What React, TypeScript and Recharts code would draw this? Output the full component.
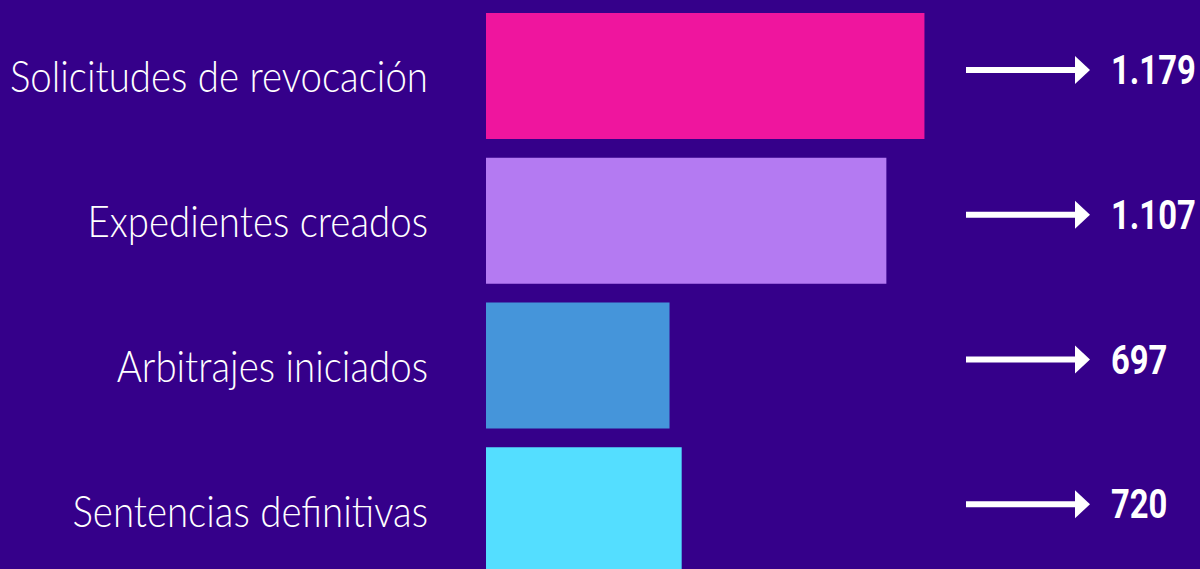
import React from "react";
import { BarChart, Bar, XAxis, YAxis, Cell, LabelList } from "recharts";

const categories = [
  "Solicitudes de revocación",
  "Expedientes creados",
  "Arbitrajes iniciados",
  "Sentencias definitivas",
];
const totals = [1179, 1107, 697, 720];
const barColors = ["#EF159E", "#B47AF2", "#4595DA", "#54DEFF"];

const data = categories.map((name, i) => ({ name, total: totals[i] }));

const BG = "#35008A";

// 1179 -> "1.179"
const formatEs = (v: number) => String(v).replace(/\B(?=(\d{3})+(?!\d))/g, ".");

const CategoryTick = (props: any) => {
  const { y, payload } = props;
  return (
    <g transform={`translate(428, ${y}) scale(0.874, 1)`}>
      <text
        x={0}
        y={0}
        dy={16}
        textAnchor="end"
        fill="#ffffff"
        fontFamily="Lato, sans-serif"
        fontWeight={300}
        fontSize={44}
      >
        {payload.value}
      </text>
    </g>
  );
};

const ArrowValue = (props: any) => {
  const { y, height, value } = props;
  const cy = y + height / 2 - 6;
  return (
    <g>
      <rect x={966} y={cy - 3} width={112} height={6} fill="#ffffff" />
      <polygon points={`1075,${cy - 14} 1090,${cy} 1075,${cy + 14}`} fill="#ffffff" />
      <g transform={`translate(1111, ${cy}) scale(0.82, 1)`}>
        <text
          x={0}
          y={0}
          dy={14}
          textAnchor="start"
          fill="#ffffff"
          fontFamily="Roboto, sans-serif"
          fontWeight={700}
          fontSize={40}
        >
          {formatEs(value)}
        </text>
      </g>
    </g>
  );
};

export default function App() {
  return (
    <div
      style={{
        position: "fixed",
        left: 0,
        top: 0,
        width: 1200,
        height: 569,
        overflow: "hidden",
        background: BG,
      }}
    >
      <BarChart
        width={1200}
        height={600}
        data={data}
        layout="vertical"
        margin={{ top: 4, right: 0, bottom: 17, left: 0 }}
        barCategoryGap={0}
      >
        <XAxis type="number" hide domain={[350, 1700]} allowDataOverflow />
        <YAxis
          type="category"
          dataKey="name"
          width={486}
          axisLine={false}
          tickLine={false}
          tick={<CategoryTick />}
          interval={0}
        />
        <Bar dataKey="total" barSize={126} isAnimationActive={false}>
          {data.map((d, i) => (
            <Cell key={d.name} fill={barColors[i]} />
          ))}
          <LabelList dataKey="total" content={<ArrowValue />} />
        </Bar>
      </BarChart>
    </div>
  );
}
